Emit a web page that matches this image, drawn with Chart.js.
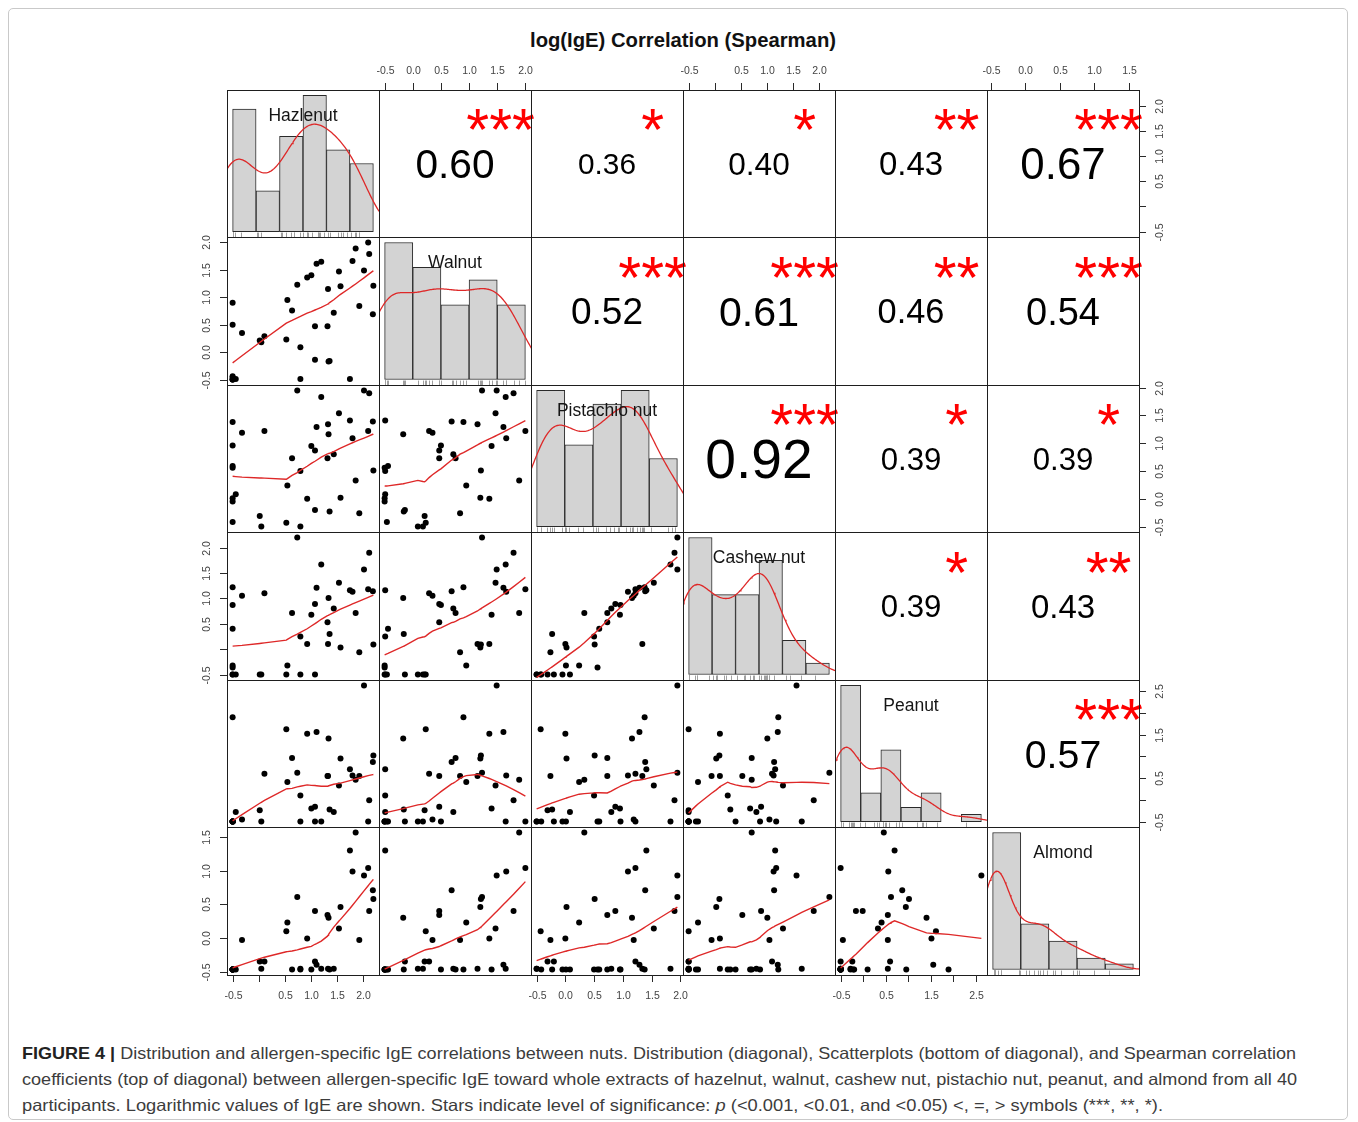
<!DOCTYPE html>
<html lang="en">
<head>
<meta charset="UTF-8">
<title>log(IgE) Correlation (Spearman)</title>
<script src="https://cdn.jsdelivr.net/npm/chart.js"></script>
<style>
    body {
        margin: 0;
        background: #fff;
        font-family: 'Liberation Sans', Arial, Helvetica, sans-serif;
    }
    #page {
        position: relative;
        width: 1358px;
        height: 1122px;
        overflow: hidden;
    }
    .frame {
        position: absolute;
        left: 8px;
        top: 8px;
        width: 1338px;
        height: 1110px;
        border: 1px solid #c9c9c9;
        border-radius: 5px;
    }
    .title {
        position: absolute;
        left: 530px;
        top: 28px;
        font-size: 20px;
        line-height: 24px;
        font-weight: bold;
        color: #111;
        white-space: nowrap;
        transform-origin: left center;
    }
    #grid canvas {
        position: absolute;
    }
    .cap {
        position: absolute;
        left: 22px;
        font-size: 16.5px;
        line-height: 22px;
        color: #3c3c3c;
        white-space: nowrap;
        transform-origin: left center;
    }
    .cap b {
        color: #222;
    }
</style>
</head>
<body>
<div id="page">
    <div class="frame"></div>
    <div class="title" id="title" data-w="306">log(IgE) Correlation (Spearman)</div>
    <div id="grid"></div>
    <div class="cap" style="top:1042px" data-w="1274"><b>FIGURE 4 |</b> Distribution and allergen-specific IgE correlations between nuts. Distribution (diagonal), Scatterplots (bottom of diagonal), and Spearman correlation</div>
    <div class="cap" style="top:1068px" data-w="1275">coefficients (top of diagonal) between allergen-specific IgE toward whole extracts of hazelnut, walnut, cashew nut, pistachio nut, peanut, and almond from all 40</div>
    <div class="cap" style="top:1094px" data-w="1141">participants. Logarithmic values of IgE are shown. Stars indicate level of significance: <i>p</i> (&lt;0.001, &lt;0.01, and &lt;0.05) &lt;, =, &gt; symbols (***, **, *).</div>
</div>

<script>
    // --- data: log(IgE) of the 40 participants, one array per nut ---
    const names = ['Hazlenut', 'Walnut', 'Pistachio nut', 'Cashew nut', 'Peanut', 'Almond'];

    const hazelnut = [-0.50, -0.50, -0.50, -0.50, -0.44, -0.32, 0.02, 0.05, 0.11, 0.53, 0.55, 0.64, 0.74, 0.80, 0.80, 0.93, 1.01, 1.08, 1.11, 1.20,
        1.08, 1.33, 1.32, 1.34, 1.36, 1.44, 1.54, 1.57, 1.75, 1.80, 1.86, 1.93, 2.02, 2.10, 2.12, 2.20, 2.19, -0.50, -0.50, -0.50];
    const walnut = [0.90, 0.50, -0.44, -0.46, -0.49, 0.35, 0.21, 0.18, 0.29, 0.23, 0.95, 0.76, 1.23, 0.09, -0.49, 1.36, 1.40, 0.47, 1.61, 1.65,
        -0.14, 1.15, 0.47, -0.17, -0.16, 0.72, 1.47, 1.20, -0.49, 1.66, 1.89, 0.84, 1.49, 2.00, 1.79, 1.21, 0.69, -0.50, -0.50, -0.50];
    const pistachio = [1.38, 0.96, 0.59, -0.42, 0.08, 1.19, -0.31, -0.50, 1.22, -0.43, 0.24, 0.73, 1.95, -0.50, 0.50, 0.00, 0.95, 0.87, 1.29, 1.83,
        -0.20, 1.34, 0.73, 1.16, -0.23, 0.80, 1.54, 0.02, 1.41, 1.09, 0.33, -0.26, 1.95, 1.22, 1.90, 0.51, 1.39, 0.01, -0.05, 0.56];
    const cashew = [1.22, 0.87, 0.40, -0.50, -0.50, 1.05, -0.50, -0.50, 1.10, -0.50, -0.32, 0.71, 2.20, -0.50, 0.25, 0.10, 0.68, 0.89, 1.21, 1.67,
        -0.50, 0.10, 0.53, 1.01, 0.30, 0.80, 1.31, 0.03, 1.16, 1.13, 0.71, -0.06, 1.57, 1.18, 1.90, 0.09, 1.14, -0.32, -0.50, -0.36];
    const peanut = [1.90, -0.50, -0.50, -0.50, -0.28, -0.45, -0.24, -0.50, 0.60, 1.62, 0.41, 0.96, 0.62, -0.50, 0.10, 1.52, -0.20, -0.16, 1.56, -0.50,
        -0.50, 0.55, 0.55, 1.41, -0.22, -0.28, 0.33, 0.95, 0.70, 0.56, 0.46, 0.55, 2.63, -0.50, -0.01, 1.02, 0.87, -0.50, -0.50, -0.50];
    const almond = [-0.47, -0.47, -0.47, -0.47, -0.47, -0.03, -0.35, -0.46, -0.35, 0.10, 0.23, -0.47, 0.61, -0.46, -0.47, -0.01, -0.47, 0.40, -0.40, -0.46,
        -0.35, -0.46, 0.34, 0.30, -0.47, -0.46, 0.14, 0.46, 1.30, 0.99, 1.57, -0.03, 0.93, 1.04, 0.40, 0.58, 0.71, -0.47, -0.47, -0.47];

    // histogram breaks (diagonal)
    const breaksHazelnut = [-0.5, 0, 0.5, 1, 1.5, 2, 2.5];
    const breaksWalnut = [-0.5, 0, 0.5, 1, 1.5, 2];
    const breaksPistachio = [-0.5, 0, 0.5, 1, 1.5, 2];
    const breaksCashew = [-0.5, 0, 0.5, 1, 1.5, 2, 2.5];
    const breaksPeanut = [-0.5, 0, 0.5, 1, 1.5, 2, 2.5, 3];
    const breaksAlmond = [-0.5, 0, 0.5, 1, 1.5, 2];

    // outer axis ticks and their labels ('' = tick without label)
    const ticksHalf = [-0.5, 0, 0.5, 1, 1.5, 2];
    const ticksPeanut = [-0.5, 0, 0.5, 1, 1.5, 2, 2.5];
    const ticksAlmond = [-0.5, 0, 0.5, 1, 1.5];
    const labelsHazelnut = ['-0.5', '', '0.5', '1.0', '1.5', '2.0'];
    const labelsWalnut = ['-0.5', '0.0', '0.5', '1.0', '1.5', '2.0'];
    const labelsPistachio = ['-0.5', '0.0', '0.5', '1.0', '1.5', '2.0'];
    const labelsCashew = ['-0.5', '', '0.5', '1.0', '1.5', '2.0'];
    const labelsPeanut = ['-0.5', '', '0.5', '', '1.5', '', '2.5'];
    const labelsAlmond = ['-0.5', '0.0', '0.5', '1.0', '1.5'];

    // Spearman rho and significance, upper triangle row by row
    const rhoValues = [0.60, 0.36, 0.40, 0.43, 0.67, 0.52, 0.61, 0.46, 0.54, 0.92, 0.39, 0.39, 0.39, 0.43, 0.57];
    const rhoStars = ['***', '*', '*', '**', '***', '***', '***', '**', '***', '***', '*', '*', '*', '**', '***'];

    const series = [hazelnut, walnut, pistachio, cashew, peanut, almond];
    const breaks = [breaksHazelnut, breaksWalnut, breaksPistachio, breaksCashew, breaksPeanut, breaksAlmond];
    const tickValues = [ticksHalf, ticksHalf, ticksHalf, ticksHalf, ticksPeanut, ticksAlmond];
    const tickLabels = [labelsHazelnut, labelsWalnut, labelsPistachio, labelsCashew, labelsPeanut, labelsAlmond];

    const FONT = '"Liberation Sans", Arial, Helvetica, sans-serif';
    const RED = 'rgb(222, 40, 40)';

    // --- helpers (same things R's pairs / hist / density / lowess do) ---
    function padRange(lo, hi) {
        const d = (hi - lo) * 0.04;
        return [lo - d, hi + d];
    }

    function histogram(x, br) {
        const counts = new Array(br.length - 1).fill(0);
        x.forEach(v => {
            for (let k = 0; k < br.length - 1; k++) {
                const inLow = k === 0 ? v >= br[0] : v > br[k];
                if (inLow && v <= br[k + 1]) { counts[k]++; break; }
            }
        });
        return counts.map((c, k) => ({ x: (br[k] + br[k + 1]) / 2, y: c / (x.length * (br[k + 1] - br[k])) }));
    }

    function quantile7(s, p) {
        const h = (s.length - 1) * p, lo = Math.floor(h);
        const hi = Math.min(lo + 1, s.length - 1);
        return s[lo] + (h - lo) * (s[hi] - s[lo]);
    }

    function density(x) {
        const n = x.length;
        const mean = x.reduce((a, b) => a + b, 0) / n;
        const sd = Math.sqrt(x.reduce((a, b) => a + (b - mean) ** 2, 0) / (n - 1));
        const s = [...x].sort((a, b) => a - b);
        const lo = Math.min(sd, (quantile7(s, 0.75) - quantile7(s, 0.25)) / 1.34) || sd;
        const bw = 0.9 * lo * Math.pow(n, -0.2);
        const from = s[0] - 3 * bw, to = s[n - 1] + 3 * bw;
        const out = [];
        for (let k = 0; k <= 240; k++) {
            const t = from + (to - from) * k / 240;
            let sum = 0;
            x.forEach(v => { const z = (t - v) / bw; sum += Math.exp(-0.5 * z * z); });
            out.push({ x: t, y: sum / (n * bw * Math.sqrt(2 * Math.PI)) });
        }
        return out;
    }

    function lowest(x, y, n, xs, nleft, nright, w, userw, rw) {
        const range = x[n - 1] - x[0];
        const h = Math.max(xs - x[nleft], x[nright] - xs);
        const h9 = 0.999 * h, h1 = 0.001 * h;
        let a = 0, j = nleft;
        while (j < n) {
            w[j] = 0;
            const r = Math.abs(x[j] - xs);
            if (r <= h9) {
                w[j] = r <= h1 ? 1 : Math.pow(1 - Math.pow(r / h, 3), 3);
                if (userw) w[j] *= rw[j];
                a += w[j];
            } else if (x[j] > xs) {
                break;
            }
            j++;
        }
        const nrt = j - 1;
        if (a <= 0) return null;
        for (j = nleft; j <= nrt; j++) w[j] /= a;
        if (h > 0) {
            a = 0;
            for (j = nleft; j <= nrt; j++) a += w[j] * x[j];
            let b = xs - a, c = 0;
            for (j = nleft; j <= nrt; j++) c += w[j] * (x[j] - a) * (x[j] - a);
            if (Math.sqrt(c) > 0.001 * range) {
                b /= c;
                for (j = nleft; j <= nrt; j++) w[j] *= (b * (x[j] - a) + 1);
            }
        }
        let ys = 0;
        for (j = nleft; j <= nrt; j++) ys += w[j] * y[j];
        return ys;
    }

    function lowess(xIn, yIn, f = 2 / 3, nsteps = 3) {
        const order = xIn.map((_, k) => k).sort((p, q) => xIn[p] - xIn[q]);
        const x = order.map(k => xIn[k]), y = order.map(k => yIn[k]);
        const n = x.length;
        const delta = 0.01 * (x[n - 1] - x[0]);
        const ns = Math.max(2, Math.min(n, Math.floor(f * n + 1e-7)));
        const ys = new Array(n).fill(0), rw = new Array(n).fill(0);
        const res = new Array(n).fill(0), w = new Array(n).fill(0);
        for (let iter = 1; iter <= nsteps + 1; iter++) {
            let nleft = 0, nright = ns - 1, last = -1, i = 0;
            for (;;) {
                if (nright < n - 1) {
                    const d1 = x[i] - x[nleft], d2 = x[nright + 1] - x[i];
                    if (d1 > d2) { nleft++; nright++; continue; }
                }
                const fit = lowest(x, y, n, x[i], nleft, nright, w, iter > 1, rw);
                ys[i] = fit === null ? y[i] : fit;
                if (last < i - 1) {
                    const denom = x[i] - x[last];
                    for (let j = last + 1; j < i; j++) {
                        const alpha = (x[j] - x[last]) / denom;
                        ys[j] = alpha * ys[i] + (1 - alpha) * ys[last];
                    }
                }
                last = i;
                const cut = x[last] + delta;
                for (i = last + 1; i < n; i++) {
                    if (x[i] > cut) break;
                    if (x[i] === x[last]) { ys[i] = ys[last]; last = i; }
                }
                i = Math.max(last + 1, i - 1);
                if (last >= n - 1) break;
            }
            for (let k = 0; k < n; k++) res[k] = y[k] - ys[k];
            const sc = res.reduce((a, b) => a + Math.abs(b), 0) / n;
            if (iter > nsteps) break;
            const abs = res.map(Math.abs).sort((p, q) => p - q);
            const m1 = Math.floor(n / 2);
            const cmad = n % 2 === 0 ? 3 * (abs[m1] + abs[n - m1 - 1]) : 6 * abs[m1];
            if (cmad < 1e-7 * sc) break;
            const c9 = 0.999 * cmad, c1 = 0.001 * cmad;
            for (let k = 0; k < n; k++) {
                const r = Math.abs(res[k]);
                rw[k] = r <= c1 ? 1 : (r <= c9 ? Math.pow(1 - Math.pow(r / cmad, 2), 2) : 0);
            }
        }
        return x.map((v, k) => ({ x: v, y: ys[k] }));
    }

    // --- panel layout ---
    const GX = 226.5, GY = 89.5, PW = 152.0, PH = 147.5, M = 40;
    const xe = Array.from({ length: 7 }, (_, k) => Math.round(GX + k * PW));
    const ye = Array.from({ length: 7 }, (_, k) => Math.round(GY + k * PH));
    const ranges = series.map(s => padRange(Math.min(...s), Math.max(...s)));
    const grid = document.getElementById('grid');

    function drawAxis(chart, side, v) {
        const { ctx, chartArea: a } = chart;
        const horiz = side === 'top' || side === 'bottom';
        const sc = horiz ? chart.scales.x : chart.scales.y;
        ctx.save();
        ctx.strokeStyle = '#2a2a2a';
        ctx.lineWidth = 1;
        ctx.fillStyle = '#444';
        ctx.font = '10.5px ' + FONT;
        ctx.textAlign = 'center';
        ctx.textBaseline = 'middle';
        tickValues[v].forEach((t, k) => {
            const p = Math.round(sc.getPixelForValue(t)) + 0.5;
            ctx.beginPath();
            if (side === 'top') { ctx.moveTo(p, a.top); ctx.lineTo(p, a.top - 7); }
            if (side === 'bottom') { ctx.moveTo(p, a.bottom); ctx.lineTo(p, a.bottom + 7); }
            if (side === 'left') { ctx.moveTo(a.left, p); ctx.lineTo(a.left - 7, p); }
            if (side === 'right') { ctx.moveTo(a.right, p); ctx.lineTo(a.right + 7, p); }
            ctx.stroke();
            const lab = tickLabels[v][k];
            if (!lab) return;
            if (horiz) {
                ctx.fillText(lab, p, side === 'top' ? a.top - 19 : a.bottom + 21);
            } else {
                ctx.save();
                ctx.translate(side === 'left' ? a.left - 20 : a.right + 21, p);
                ctx.rotate(-Math.PI / 2);
                ctx.fillText(lab, 0, 0);
                ctx.restore();
            }
        });
        ctx.restore();
    }

    function panelPlugin(info) {
        return {
            id: 'panel',
            afterDraw(chart) {
                const { ctx, chartArea: a } = chart;
                const w = a.right - a.left, h = a.bottom - a.top;
                ctx.save();
                if (info.kind === 'diag') {
                    // rug
                    ctx.strokeStyle = '#a0a0a0';
                    ctx.lineWidth = 1;
                    series[info.i].forEach(v => {
                        const p = Math.round(chart.scales.x.getPixelForValue(v)) + 0.5;
                        ctx.beginPath();
                        ctx.moveTo(p, a.bottom);
                        ctx.lineTo(p, a.bottom - 0.03 * h);
                        ctx.stroke();
                    });
                    ctx.fillStyle = '#151515';
                    ctx.font = '17.5px ' + FONT;
                    ctx.textAlign = 'center';
                    ctx.textBaseline = 'alphabetic';
                    ctx.fillText(names[info.i], a.left + w / 2, a.top + h / 6 + 6.3);
                }
                if (info.kind === 'upper') {
                    const r = rhoValues[info.k];
                    const txt = r.toFixed(2);
                    ctx.font = '100px ' + FONT;
                    const base = 0.8 * w * 100 / ctx.measureText(txt).width * 0.94;
                    const size = base * (Math.abs(r) + 0.3) / 1.3;
                    ctx.textAlign = 'center';
                    ctx.textBaseline = 'alphabetic';
                    ctx.fillStyle = '#000';
                    ctx.font = size + 'px ' + FONT;
                    ctx.fillText(txt, a.left + w / 2, a.top + h / 2 + 0.36 * size);
                    ctx.fillStyle = '#ff0000';
                    ctx.font = base + 'px ' + FONT;
                    ctx.fillText(rhoStars[info.k], a.left + 0.8 * w, a.bottom - 0.8 * h - 3 + 0.58 * base);
                }
                // panel box
                ctx.strokeStyle = '#1e1e1e';
                ctx.lineWidth = 1;
                ctx.strokeRect(a.left + 0.5, a.top + 0.5, w, h);
                ctx.restore();
                if (info.top) drawAxis(chart, 'top', info.j);
                if (info.bottom) drawAxis(chart, 'bottom', info.j);
                if (info.left) drawAxis(chart, 'left', info.i);
                if (info.right) drawAxis(chart, 'right', info.i);
            }
        };
    }

    function baseOptions(xr, yr) {
        return {
            responsive: false,
            animation: false,
            devicePixelRatio: 1,
            events: [],
            layout: { padding: M },
            plugins: { legend: { display: false }, tooltip: { enabled: false } },
            scales: {
                x: { type: 'linear', min: xr[0], max: xr[1], display: false, offset: false },
                y: { type: 'linear', min: yr[0], max: yr[1], display: false }
            }
        };
    }

    let upperIndex = 0;
    for (let i = 0; i < 6; i++) {
        for (let j = 0; j < 6; j++) {
            const w = xe[j + 1] - xe[j], h = ye[i + 1] - ye[i];
            const canvas = document.createElement('canvas');
            canvas.width = w + 2 * M;
            canvas.height = h + 2 * M;
            canvas.style.left = (xe[j] - M) + 'px';
            canvas.style.top = (ye[i] - M) + 'px';
            grid.appendChild(canvas);

            const info = {
                i, j,
                top: i === 0 && j % 2 === 1,
                bottom: i === 5 && j % 2 === 0,
                left: j === 0 && i % 2 === 1,
                right: j === 5 && i % 2 === 0
            };

            if (i === j) {
                info.kind = 'diag';
                const br = breaks[i];
                const bins = histogram(series[i], br);
                const maxD = Math.max(...bins.map(b => b.y));
                const opts = baseOptions(padRange(br[0], br[br.length - 1]), padRange(0, maxD));
                opts.scales.x.afterBuildTicks = scale => { scale.ticks = br.map(v => ({ value: v })); };
                new Chart(canvas, {
                    type: 'bar',
                    data: {
                        datasets: [
                            { type: 'line', data: density(series[i]), borderColor: RED, borderWidth: 1.3,
                              pointRadius: 0, tension: 0, fill: false, order: 0 },
                            { type: 'bar', data: bins, backgroundColor: '#d3d3d3', borderColor: '#2a2a2a',
                              borderWidth: 1, borderSkipped: false, barPercentage: 1, categoryPercentage: 1, order: 1 }
                        ]
                    },
                    options: opts,
                    plugins: [panelPlugin(info)]
                });
            } else if (i > j) {
                info.kind = 'lower';
                const pts = series[j].map((v, k) => ({ x: v, y: series[i][k] }));
                new Chart(canvas, {
                    type: 'scatter',
                    data: {
                        datasets: [
                            { data: lowess(series[j], series[i]), showLine: true, borderColor: RED,
                              borderWidth: 1.4, pointRadius: 0, order: 0 },
                            { data: pts, pointRadius: 3, pointBackgroundColor: '#000',
                              pointBorderWidth: 0, borderWidth: 0, order: 1 }
                        ]
                    },
                    options: baseOptions(ranges[j], ranges[i]),
                    plugins: [panelPlugin(info)]
                });
            } else {
                info.kind = 'upper';
                info.k = upperIndex++;
                new Chart(canvas, {
                    type: 'scatter',
                    data: { datasets: [] },
                    options: baseOptions(ranges[j], ranges[i]),
                    plugins: [panelPlugin(info)]
                });
            }
        }
    }

    // squeeze title / caption lines to the widths of the printed figure
    document.querySelectorAll('[data-w]').forEach(el => {
        const target = parseFloat(el.dataset.w);
        const actual = el.getBoundingClientRect().width;
        el.style.transform = 'scaleX(' + (target / actual) + ')';
    });
</script>
</body>
</html>
